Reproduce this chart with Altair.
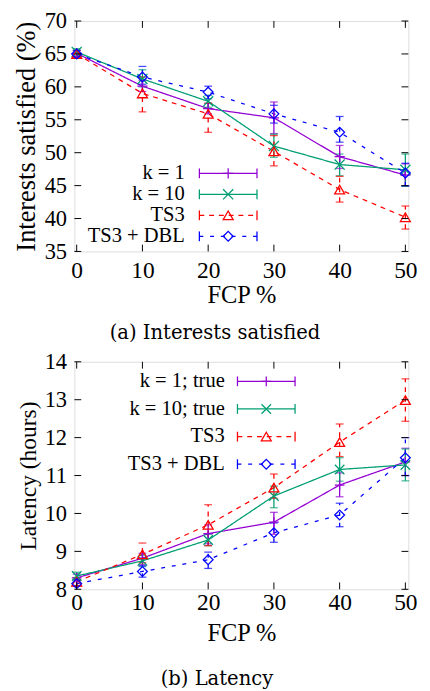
import altair as alt
import pandas as pd

fcp = [0, 10, 20, 30, 40, 50]
names_a = ["k = 1", "k = 10", "TS3", "TS3 + DBL"]
names_b = ["k = 1; true", "k = 10; true", "TS3", "TS3 + DBL"]

# (a) Interests satisfied (%)
sat_k1 = [65.1, 60.1, 56.7, 55.3, 49.4, 46.6]
sat_k1_lo = [64.6, 59.3, 55.9, 52.9, 47.6, 44.9]
sat_k1_hi = [65.6, 61.0, 57.5, 57.7, 51.1, 48.3]
sat_k10 = [65.3, 61.2, 57.8, 51.0, 48.2, 47.4]
sat_k10_lo = [64.8, 60.0, 56.9, 49.3, 46.5, 44.9]
sat_k10_hi = [65.8, 62.6, 58.7, 52.8, 49.8, 49.8]
sat_ts3 = [65.0, 59.0, 55.9, 50.2, 44.4, 40.2]
sat_ts3_lo = [64.5, 56.2, 53.1, 48.0, 42.5, 38.4]
sat_ts3_hi = [65.5, 61.5, 57.5, 52.6, 46.4, 41.9]
sat_dbl = [65.0, 61.5, 59.2, 55.9, 53.1, 46.9]
sat_dbl_lo = [64.5, 60.4, 58.2, 54.5, 51.6, 45.0]
sat_dbl_hi = [65.5, 63.1, 60.1, 57.2, 55.5, 48.4]

# (b) Latency (hours)
lat_k1 = [8.30, 8.82, 9.47, 9.77, 10.75, 11.36]
lat_k1_lo = [8.20, 8.65, 9.20, 9.45, 10.44, 11.00]
lat_k1_hi = [8.40, 8.95, 9.70, 10.03, 11.07, 11.72]
lat_k10 = [8.35, 8.75, 9.30, 10.46, 11.16, 11.28]
lat_k10_lo = [8.25, 8.60, 9.15, 10.15, 10.85, 10.86]
lat_k10_hi = [8.45, 8.90, 9.45, 10.72, 11.47, 11.70]
lat_ts3 = [8.20, 8.92, 9.70, 10.68, 11.88, 12.99]
lat_ts3_lo = [8.10, 8.70, 9.15, 10.40, 11.50, 12.43]
lat_ts3_hi = [8.30, 9.22, 10.23, 11.04, 12.36, 13.55]
lat_dbl = [8.15, 8.47, 8.78, 9.49, 9.96, 11.47]
lat_dbl_lo = [8.08, 8.32, 8.55, 9.24, 9.65, 11.00]
lat_dbl_hi = [8.25, 8.62, 8.98, 9.75, 10.27, 12.00]

colors = ["#9400d3", "#009e73", "#ff0000", "#0000ff"]
dashes = [[1, 0], [1, 0], [5, 5], [4, 7]]
shapes = ["M-1,0L1,0M0,-1L0,1", "M-1,-1L1,1M-1,1L1,-1", "triangle-up", "diamond"]
sizes = [110, 95, 185, 170]

FONT = "Liberation Serif"
W = 342


def frame(names, vals, los, his):
    rows = []
    for name, v, lo, hi in zip(names, vals, los, his):
        for x, a, b, c in zip(fcp, v, lo, hi):
            rows.append({"fcp": x, "value": a, "lo": b, "hi": c, "series": name})
    return pd.DataFrame(rows)


def panel(df, names, ydom, ystep, ytitle, ytitle_size, caption, H, leg, lpad, tpad, coff):
    xs = alt.Scale(domain=[-0.35, 50.45], nice=False, zero=False)
    ys = alt.Scale(domain=ydom, nice=False, zero=False)
    yvals = list(range(ydom[0], ydom[1] + 1, ystep))
    col = alt.Color("series:N", scale=alt.Scale(domain=names, range=colors), legend=None)
    dash = alt.StrokeDash("series:N", scale=alt.Scale(domain=names, range=dashes), legend=None)
    shp = alt.Shape("series:N", scale=alt.Scale(domain=names, range=shapes), legend=None)
    siz = alt.Size("series:N", scale=alt.Scale(domain=names, range=sizes), legend=None)
    xaxis = alt.Axis(values=fcp, title="FCP %", titleFontSize=25, titleFont=FONT,
                     titleFontWeight="normal", labelFont=FONT, labelFontSize=24,
                     ticks=False, domain=False, grid=False, labelPadding=lpad,
                     titlePadding=tpad, labelColor="black", titleColor="black",
                     labelFlush=False, labelOverlap=False)
    yaxis = alt.Axis(values=yvals, title=ytitle, titleFontSize=ytitle_size, titleFont=FONT,
                     titleFontWeight="normal", labelFont=FONT, labelFontSize=23,
                     ticks=False, domain=False, grid=False, labelPadding=8,
                     titlePadding=4, labelColor="black", titleColor="black",
                     labelOverlap=False, labelFlush=False)
    X = lambda f: alt.X(f, scale=xs, axis=xaxis)
    Y = lambda f: alt.Y(f, scale=ys, axis=yaxis)
    base = alt.Chart(df)
    lines = base.mark_line(strokeWidth=1.3).encode(
        x=X("fcp:Q"), y=Y("value:Q"), color=col, strokeDash=dash, detail="series:N")
    err = base.mark_rule(strokeWidth=1.3).encode(
        x=X("fcp:Q"), y=Y("lo:Q"), y2="hi:Q", color=col, strokeDash=dash)
    cap_lo = base.mark_tick(orient="horizontal", size=8, thickness=1.3).encode(
        x=X("fcp:Q"), y=Y("lo:Q"), color=col)
    cap_hi = base.mark_tick(orient="horizontal", size=8, thickness=1.3).encode(
        x=X("fcp:Q"), y=Y("hi:Q"), color=col)
    pts = base.mark_point(filled=False, strokeWidth=1.3, opacity=1).encode(
        x=X("fcp:Q"), y=Y("value:Q"), color=col, shape=shp, size=siz)

    # inward ticks (mirrored on top and right)
    xt = alt.Chart(pd.DataFrame({"t": fcp})).mark_rule(color="black", strokeWidth=1)
    yt = alt.Chart(pd.DataFrame({"t": yvals})).mark_rule(color="black", strokeWidth=1)
    ticks = [
        xt.encode(x=X("t:Q"), y=alt.value(H), y2=alt.value(H - 7)),
        xt.encode(x=X("t:Q"), y=alt.value(0), y2=alt.value(7)),
        yt.encode(y=Y("t:Q"), x=alt.value(0), x2=alt.value(7)),
        yt.encode(y=Y("t:Q"), x=alt.value(W), x2=alt.value(W - 7)),
    ]

    # hand-drawn key (labels left of samples, like the original)
    tx, x0, x1, y0, dy = leg
    key = []
    for i, name in enumerate(names):
        y = y0 + i * dy
        kd = alt.Chart(pd.DataFrame({"series": [name]}))
        key.append(kd.mark_text(align="right", baseline="middle", font=FONT, fontSize=21,
                                color="black").encode(x=alt.value(tx), y=alt.value(y), text="series:N"))
        key.append(kd.mark_rule(strokeWidth=1.3).encode(
            x=alt.value(x0), x2=alt.value(x1), y=alt.value(y), color=col, strokeDash=dash))
        for xc in (x0, x1):
            key.append(kd.mark_rule(strokeWidth=1.3).encode(
                x=alt.value(xc), y=alt.value(y - 5), y2=alt.value(y + 5), color=col))
        key.append(kd.mark_point(filled=False, strokeWidth=1.3, opacity=1).encode(
            x=alt.value((x0 + x1) / 2), y=alt.value(y), color=col, shape=shp, size=siz))

    return alt.layer(lines, err, cap_lo, cap_hi, pts, *ticks, *key).properties(
        width=W, height=H,
        title=alt.TitleParams(caption, orient="bottom", anchor="middle", frame="bounds",
                              font="DejaVu Serif", fontSize=20, fontWeight="normal",
                              color="black", offset=coff))


df_a = frame(names_a, [sat_k1, sat_k10, sat_ts3, sat_dbl],
             [sat_k1_lo, sat_k10_lo, sat_ts3_lo, sat_dbl_lo],
             [sat_k1_hi, sat_k10_hi, sat_ts3_hi, sat_dbl_hi])
df_b = frame(names_b, [lat_k1, lat_k10, lat_ts3, lat_dbl],
             [lat_k1_lo, lat_k10_lo, lat_ts3_lo, lat_dbl_lo],
             [lat_k1_hi, lat_k10_hi, lat_ts3_hi, lat_dbl_hi])

top = panel(df_a, names_a, [35, 70], 5, "Interests satisfied (%)", 27,
            "(a) Interests satisfied", 236, (113, 128, 187, 156, 21.5), 8, 0, 17)
bottom = panel(df_b, names_b, [8, 14], 1, "Latency (hours)", 24,
               "(b) Latency", 233, (154, 167, 226, 20, 28.3), 2, 6, 25)

chart = alt.vconcat(top, bottom, spacing=6).properties(
    padding={"left": 4, "top": -7, "right": 4, "bottom": 0}
).configure_view(stroke="black", strokeWidth=1.8).configure(background="white")

chart.save("out.html", embed_options={"renderer": "svg", "actions": False})
